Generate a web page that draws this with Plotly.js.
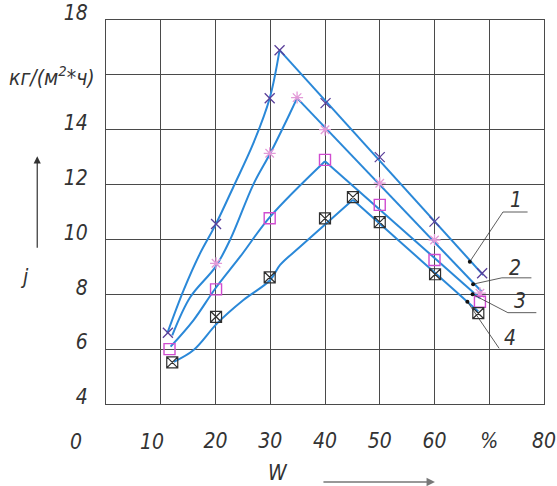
<!DOCTYPE html>
<html>
<head>
<meta charset="utf-8">
<script src="https://cdn.plot.ly/plotly-3.0.1.min.js"></script>
<style>html,body{margin:0;padding:0;background:#fff}#chart{width:557px;height:486px}</style>
</head>
<body>
<div id="chart"></div>
<script>
// ---- measured points (markers) ----
const x1 = [11.3, 20.1, 29.9, 31.7, 40.1, 50.0, 60.0, 68.7];
const y1 = [6.6, 10.56, 15.15, 16.9, 14.97, 13.0, 10.65, 8.77];
const x2 = [20.1, 29.9, 34.9, 40.0, 50.0, 60.0, 68.3];
const y2 = [9.13, 13.14, 15.17, 14.0, 12.05, 9.98, 8.04];
const x3 = [11.6, 20.1, 29.9, 40.0, 50.0, 60.0, 68.3];
const y3 = [6.0, 8.18, 10.77, 12.9, 11.26, 9.25, 7.73];
const x4 = [12.1, 20.1, 29.9, 40.0, 45.1, 50.0, 60.1, 68.0];
const y4 = [5.52, 7.18, 8.62, 10.77, 11.54, 10.63, 8.73, 7.31];

// ---- hand-drawn fitted curves: rising (smooth) part and falling (straight) part ----
const c1riseX = [11.2, 14.2, 17.2, 20.0, 23.3, 26.9, 29.9, 31.7];
const c1riseY = [6.58, 8.16, 9.5, 10.53, 11.93, 13.5, 15.15, 16.9];
const c1fallX = [31.7, 68.9];
const c1fallY = [16.9, 8.7];
const c2riseX = [12.1, 15.4, 20.0, 22.7, 26.9, 30.0, 33.6, 34.9];
const c2riseY = [6.5, 7.9, 9.0, 10.0, 12.0, 13.14, 14.6, 15.15];
const c2fallX = [34.9, 68.6];
const c2fallY = [15.15, 8.1];
const c3riseX = [11.8, 16.0, 20.0, 24.5, 30.0, 40.0];
const c3riseY = [6.09, 7.06, 8.22, 9.37, 10.83, 12.85];
const c3fallX = [40.0, 68.3];
const c3fallY = [12.85, 7.86];
const c4riseX = [12.4, 16.0, 20.3, 25.1, 30.0, 31.8, 35.5, 45.1];
const c4riseY = [5.54, 5.97, 6.94, 7.79, 8.52, 9.07, 9.74, 11.45];
const c4fallX = [45.1, 68.0];
const c4fallY = [11.45, 7.37];

// ---- axis ticks ----
const xTickVals = [0, 10, 20, 30, 40, 50, 60, 70, 80];
const xTickText = ["", "", "20", "30", "40", "50", "60", "%", "80"];
const yTickVals = [4, 6, 8, 10, 12, 14, 16, 18];
const yTickText = ["4", "6", "8", "10", "12", "14", "", "18"];

// ---- curve labels ----
const curveLabels = ["1", "2", "3", "4"];

const FONT = "DejaVu Sans Condensed, Liberation Sans Narrow, Liberation Sans, sans-serif";
const LINE = "#2a88d8";
const TXT = {family: FONT, size: 21, color: "#333", style: "italic"};

function curve(x, y, shape) {
  return {x: x, y: y, mode: "lines", type: "scatter", hoverinfo: "skip",
    line: {color: LINE, width: 2, shape: shape, smoothing: 1}, showlegend: false};
}
function pts(x, y, sym, col, size, w) {
  return {x: x, y: y, mode: "markers", type: "scatter", showlegend: false,
    marker: {symbol: sym, size: size, color: col, line: {color: col, width: w}}};
}

const traces = [
  curve(c1riseX, c1riseY, "spline"), curve(c1fallX, c1fallY, "linear"),
  curve(c2riseX, c2riseY, "spline"), curve(c2fallX, c2fallY, "linear"),
  curve(c3riseX, c3riseY, "spline"), curve(c3fallX, c3fallY, "linear"),
  curve(c4riseX, c4riseY, "spline"), curve(c4fallX, c4fallY, "linear"),
  pts(x1, y1, "x-thin-open", "#5a3f9a", 10, 1.3),
  pts(x2, y2, "asterisk-open", "#e39ad8", 10, 1.3),
  pts(x3, y3, "square-open", "#d04cd0", 11, 1.4),
  pts(x4, y4, "square-x-open", "#303030", 11, 1.2)
];

// leader lines (data coordinates)
const leaders = [
  {pts: [[66.45, 9.19], [72.5, 11.0], [77.0, 11.0]], txt: [74.9, 11.44]},
  {pts: [[67.05, 8.37], [72.3, 8.6], [77.7, 8.6]], txt: [74.7, 8.96]},
  {pts: [[66.95, 8.0], [73.4, 7.33], [78.6, 7.33]], txt: [75.6, 7.76]},
  {pts: [[66.0, 7.73], [71.8, 6.03]], txt: [73.7, 6.4]}
];
const shapes = [];
const annotations = [];
leaders.forEach((L, i) => {
  for (let k = 0; k < L.pts.length - 1; k++) {
    shapes.push({type: "line", xref: "x", yref: "y",
      x0: L.pts[k][0], y0: L.pts[k][1], x1: L.pts[k + 1][0], y1: L.pts[k + 1][1],
      line: {color: "#333", width: 0.8}});
  }
  shapes.push({type: "circle", xref: "x", yref: "y", xsizemode: "pixel", ysizemode: "pixel",
    xanchor: L.pts[0][0], yanchor: L.pts[0][1], x0: -2, x1: 2, y0: -2, y1: 2,
    fillcolor: "#111", line: {width: 0}});
  annotations.push({x: L.txt[0], y: L.txt[1], xref: "x", yref: "y", text: curveLabels[i],
    showarrow: false, xanchor: "center", yanchor: "middle", font: TXT});
});

// extra x labels "0" and "10" (drawn offset to the left in the original)
annotations.push({x: 0, y: 0, xref: "x", yref: "paper", yanchor: "middle", xanchor: "center",
  yshift: -38, xshift: -30, text: "0", showarrow: false, font: TXT});
annotations.push({x: 10, y: 0, xref: "x", yref: "paper", yanchor: "middle", xanchor: "center",
  yshift: -38, xshift: -9, text: "10", showarrow: false, font: TXT});
// unit label
annotations.push({x: -0.123, y: 0.855, xref: "paper", yref: "paper", xanchor: "center", yanchor: "middle",
  text: "кг/(м<sup>2</sup>*ч)", showarrow: false, font: TXT});
// j
annotations.push({x: -0.185, y: 0.331, xref: "paper", yref: "paper", xanchor: "center", yanchor: "middle",
  text: "j", showarrow: false, font: TXT});
// W
annotations.push({x: 0.393, y: 0, xref: "paper", yref: "paper", xanchor: "center", yanchor: "middle",
  yshift: -69, text: "W", showarrow: false, font: TXT});
// vertical arrow (j)
annotations.push({x: -0.157, y: 0.645, xref: "paper", yref: "paper", text: "", showarrow: true,
  ax: 0, ay: 93, arrowhead: 2, arrowsize: 1.2, arrowwidth: 1.2, arrowcolor: "#333"});
// horizontal arrow (W)
annotations.push({x: 0.751, y: 0, xref: "paper", yref: "paper", yshift: -78, text: "", showarrow: true,
  ax: -113, ay: 0, arrowhead: 2, arrowsize: 1.2, arrowwidth: 1.4, arrowcolor: "#777"});

const layout = {
  width: 557, height: 486,
  margin: {l: 106, r: 13, t: 20, b: 82},
  paper_bgcolor: "#fff", plot_bgcolor: "#fff",
  showlegend: false,
  xaxis: {range: [0, 80], tickvals: xTickVals, ticktext: xTickText, showgrid: true,
    gridcolor: "#4a4a4a", gridwidth: 1, zeroline: false, showline: true, mirror: true,
    linecolor: "#4a4a4a", linewidth: 1, ticks: "", ticklabelstandoff: 18, tickfont: TXT},
  yaxis: {range: [4, 18], tickvals: yTickVals, ticktext: yTickText, showgrid: true,
    gridcolor: "#4a4a4a", gridwidth: 1, zeroline: false, showline: true, mirror: true,
    linecolor: "#4a4a4a", linewidth: 1, ticks: "", ticklabelstandoff: 13, ticklabelshift: -7,
    tickfont: TXT},
  shapes: shapes,
  annotations: annotations
};

Plotly.newPlot("chart", traces, layout, {staticPlot: true, displayModeBar: false});
</script>
</body>
</html>
